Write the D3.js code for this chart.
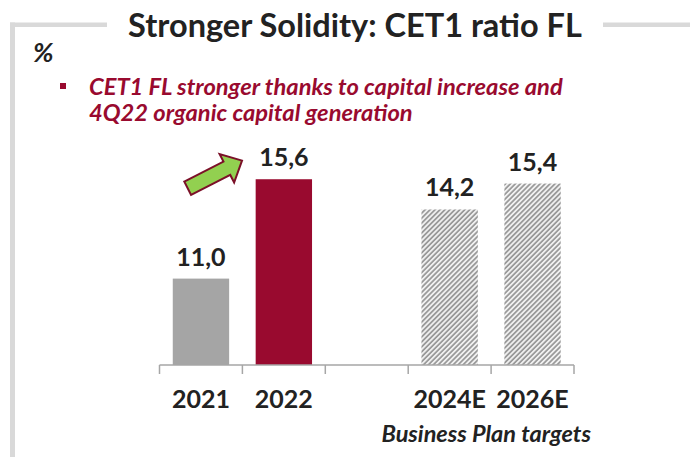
<!DOCTYPE html>
<html>
<head>
<meta charset="utf-8">
<script src="https://cdn.jsdelivr.net/npm/d3@7"></script>
<style>
  html, body { margin: 0; padding: 0; background: #ffffff; }
  svg { display: block; font-family: Lato, "Open Sans", sans-serif; }
</style>
</head>
<body>
<svg id="chart" width="690" height="457"></svg>
<script>
// CET1 ratio, fully loaded (%)
const categories = ["2021", "2022", "", "2024E", "2026E"];
const values = [11.0, 15.6, null, 14.2, 15.4];
const valueLabels = ["11,0", "15,6", "", "14,2", "15,4"];
const barKinds = ["actual-old", "actual", "gap", "target", "target"];

const titleText = "Stronger Solidity: CET1 ratio FL";
const unitText = "%";
const bulletLines = ["CET1 FL stronger thanks to capital increase and",
                     "4Q22 organic capital generation"];
const targetNote = "Business Plan targets";

const svg = d3.select("#chart");
const frameColor = "#d9d9d9";
const textColor = "#222222";
const accent = "#990a2f";

// hatched fill for Business Plan targets
const defs = svg.append("defs");
const pat = defs.append("pattern")
  .attr("id", "hatch")
  .attr("patternUnits", "userSpaceOnUse")
  .attr("width", 3.5).attr("height", 3.5)
  .attr("patternTransform", "rotate(45)");
pat.append("rect").attr("width", 3.5).attr("height", 3.5).attr("fill", "#f0f0f0");
pat.append("line").attr("x1", 0.9).attr("y1", 0).attr("x2", 0.9).attr("y2", 3.5)
  .attr("stroke", "#858585").attr("stroke-width", 1.4);

const fills = {"actual-old": "#a5a5a5", "actual": accent, "target": "url(#hatch)"};

// panel frame: top rule broken by the title, left rule down the side
svg.append("line").attr("x1", 10).attr("x2", 107).attr("y1", 24.7).attr("y2", 24.7)
  .attr("stroke", frameColor).attr("stroke-width", 4.5);
svg.append("line").attr("x1", 603).attr("x2", 690).attr("y1", 24.7).attr("y2", 24.7)
  .attr("stroke", frameColor).attr("stroke-width", 4.5);
svg.append("line").attr("x1", 12.5).attr("x2", 12.5).attr("y1", 22.5).attr("y2", 457)
  .attr("stroke", frameColor).attr("stroke-width", 5);

svg.append("text")
  .attr("x", 355).attr("y", 37)
  .attr("text-anchor", "middle")
  .attr("font-size", 32.5).attr("font-weight", 700)
  .attr("fill", textColor)
  .text(titleText);

svg.append("text")
  .attr("x", 33).attr("y", 62)
  .attr("font-size", 27).attr("font-weight", 700).attr("font-style", "italic")
  .attr("fill", textColor)
  .text(unitText);

// bullet comment
svg.append("rect").attr("x", 60).attr("y", 83).attr("width", 6).attr("height", 6).attr("fill", accent);
svg.selectAll("text.bullet").data(bulletLines).join("text")
  .attr("class", "bullet")
  .attr("x", 89).attr("y", (d, i) => 95 + i * 26)
  .attr("font-size", 23.7).attr("font-weight", 700).attr("font-style", "italic")
  .attr("fill", accent)
  .text(d => d);

// scales
const x = d3.scaleBand().domain(categories.map((c, i) => c || "gap" + i))
  .range([159.5, 574]).paddingInner(0.32).paddingOuter(0.16);
const keys = x.domain();
const y = d3.scaleLinear().domain([7, 16]).range([365, 365 - 9 * 21.6]);

const data = categories.map((c, i) => ({key: keys[i], value: values[i], label: valueLabels[i], kind: barKinds[i]}))
  .filter(d => d.value != null);

svg.selectAll("rect.bar").data(data).join("rect")
  .attr("class", "bar")
  .attr("x", d => x(d.key))
  .attr("width", x.bandwidth())
  .attr("y", d => y(d.value))
  .attr("height", d => y.range()[0] - y(d.value))
  .attr("fill", d => fills[d.kind]);

svg.selectAll("text.val").data(data).join("text")
  .attr("class", "val")
  .attr("x", d => x(d.key) + x.bandwidth() / 2)
  .attr("y", d => y(d.value) - 13)
  .attr("text-anchor", "middle")
  .attr("font-size", 25).attr("font-weight", 700)
  .attr("fill", textColor)
  .text(d => d.label);

// category axis with tick marks between categories
const axisY = y.range()[0];
const gap = x.step() * x.paddingInner() / 2;
const bounds = keys.map(k => x(k) - gap).concat([x(keys[keys.length - 1]) + x.bandwidth() + gap]);
const axis = svg.append("g").attr("stroke", "#a6a6a6").attr("stroke-width", 1.5);
axis.append("line").attr("x1", bounds[0]).attr("x2", bounds[bounds.length - 1])
  .attr("y1", axisY).attr("y2", axisY);
axis.selectAll("line.tick").data(bounds).join("line")
  .attr("class", "tick")
  .attr("x1", d => d).attr("x2", d => d)
  .attr("y1", axisY).attr("y2", axisY + 9);

svg.selectAll("text.cat").data(categories.map((c, i) => ({c, k: keys[i]})).filter(d => d.c)).join("text")
  .attr("class", "cat")
  .attr("x", d => x(d.k) + x.bandwidth() / 2)
  .attr("y", 408)
  .attr("text-anchor", "middle")
  .attr("font-size", 25).attr("font-weight", 700)
  .attr("fill", textColor)
  .text(d => d.c);

svg.append("text")
  .attr("x", 591).attr("y", 442)
  .attr("text-anchor", "end")
  .attr("font-size", 23.5).attr("font-weight", 700).attr("font-style", "italic")
  .attr("fill", textColor)
  .text(targetNote);

// growth arrow from 2021 towards 2022
const ax = x(keys[1]) - 68, ay = y(values[1]) + 9;
svg.append("path")
  .attr("d", "M0,-7.5 L44,-7.5 L44,-16 L61,0 L44,16 L44,7.5 L0,7.5 Z")
  .attr("transform", `translate(${ax},${ay}) rotate(-27)`)
  .attr("fill", "#92d050")
  .attr("stroke", "#7b1028")
  .attr("stroke-width", 2)
  .attr("stroke-linejoin", "miter");
</script>
</body>
</html>
